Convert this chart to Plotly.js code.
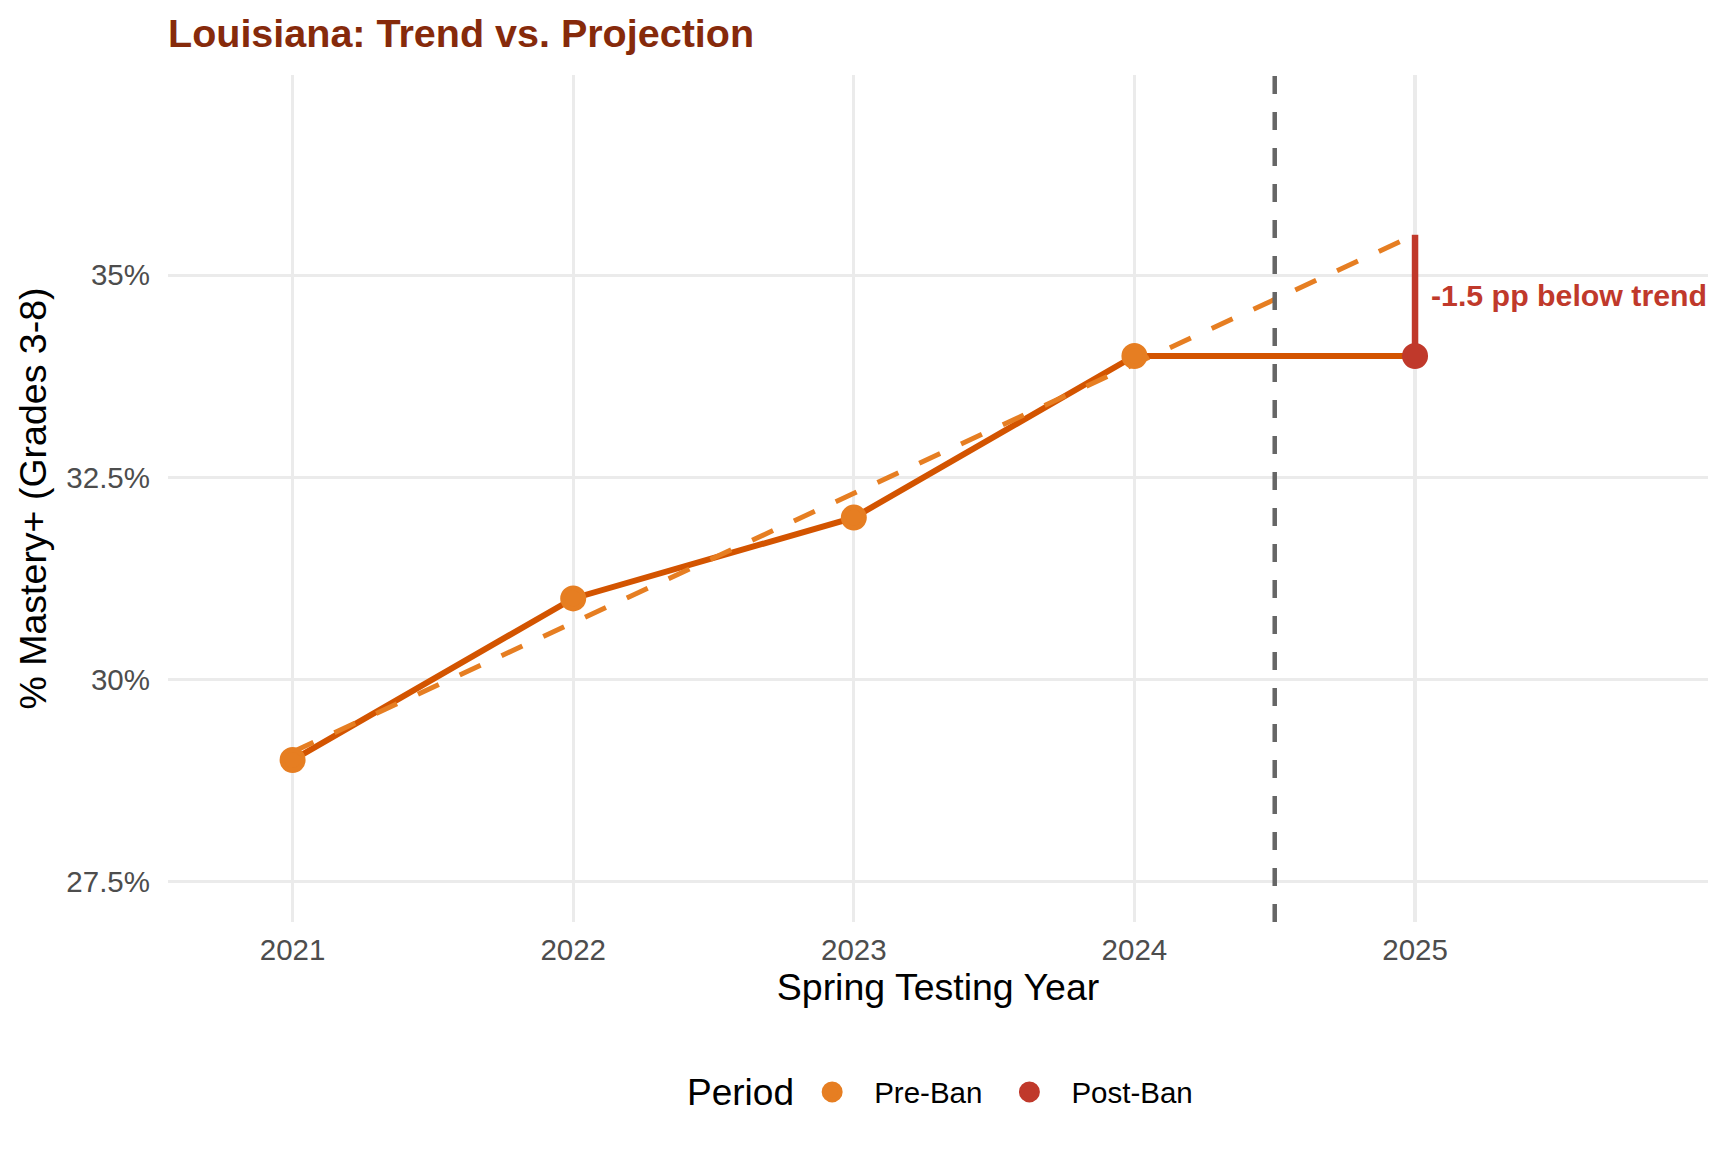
<!DOCTYPE html>
<html>
<head>
<meta charset="utf-8">
<script src="https://cdn.plot.ly/plotly-3.0.1.min.js"></script>
<style>
  html, body { margin: 0; padding: 0; background: #ffffff; }
  #chart { width: 1728px; height: 1152px; }
</style>
</head>
<body>
<div id="chart"></div>
<script>
// values
var years = [2021, 2022, 2023, 2024, 2025];
var mastery = [29.0, 31.0, 32.0, 34.0, 34.0];
var trendYears = [2021, 2022, 2023, 2024, 2025];
var trendValues = [29.1, 30.7, 32.3, 33.9, 35.5];
var preYears = [2021, 2022, 2023, 2024];
var preValues = [29.0, 31.0, 32.0, 34.0];
var postYears = [2025];
var postValues = [34.0];
var gapYears = [2025, 2025];
var gapValues = [34.0, 35.5];
var banYear = 2024.5;
var gapLabel = "-1.5 pp below trend";
var legendTitle = "Period";
var yTickVals = [27.5, 30, 32.5, 35];
var yTickText = ["27.5%", "30%", "32.5%", "35%"];

var FONT = "Liberation Sans, Arial, Helvetica, sans-serif";
var PRE = "#E67E22";
var POST = "#C0392B";

var mainLine = {
    x: years,
    y: mastery,
    type: "scatter",
    mode: "lines",
    line: {color: "#D35400", width: 6},
    showlegend: false,
    hoverinfo: "skip"
};
var trendLine = {
    x: trendYears,
    y: trendValues,
    type: "scatter",
    mode: "lines",
    line: {color: PRE, width: 5, dash: "23px,23px"},
    showlegend: false,
    hoverinfo: "skip"
};
var gapLine = {
    x: gapYears,
    y: gapValues,
    type: "scatter",
    mode: "lines",
    line: {color: POST, width: 6.5},
    showlegend: false,
    hoverinfo: "skip"
};
// marker line of the same colour makes the legend dots bigger too
var prePoints = {
    x: preYears,
    y: preValues,
    type: "scatter",
    mode: "markers",
    name: "Pre-Ban",
    marker: {color: PRE, size: 21, line: {color: PRE, width: 5}}
};
var postPoints = {
    x: postYears,
    y: postValues,
    type: "scatter",
    mode: "markers",
    name: "Post-Ban",
    marker: {color: POST, size: 21, line: {color: POST, width: 5}}
};

var legendY = -0.201;

var layout = {
    width: 1728,
    height: 1152,
    paper_bgcolor: "#ffffff",
    plot_bgcolor: "#ffffff",
    margin: {l: 168, r: 20, t: 75, b: 230},
    font: {family: FONT, color: "#000000"},
    title: {
        text: "<b>Louisiana: Trend vs. Projection</b>",
        font: {family: FONT, size: 39.5, color: "#862A0B"},
        xref: "paper", x: 0, xanchor: "left",
        yref: "container", y: 1 - 33 / 1152, yanchor: "middle"
    },
    xaxis: {
        range: [2020.556, 2026.044],
        tickvals: years,
        ticktext: years.map(String),
        showgrid: true,
        gridcolor: "#EBEBEB",
        gridwidth: 3.3,
        zeroline: false,
        showline: false,
        ticks: "",
        ticklabelstandoff: 7,
        tickfont: {family: FONT, size: 29.5, color: "#4D4D4D"},
        title: {text: "Spring Testing Year", font: {family: FONT, size: 37.5, color: "#000000"}, standoff: 9}
    },
    yaxis: {
        range: [26.996, 37.477],
        tickvals: yTickVals,
        ticktext: yTickText,
        showgrid: true,
        gridcolor: "#EBEBEB",
        gridwidth: 3.3,
        zeroline: false,
        showline: false,
        ticks: "",
        ticklabelstandoff: 17,
        tickfont: {family: FONT, size: 29.5, color: "#4D4D4D"},
        title: {text: "% Mastery+ (Grades 3-8)", font: {family: FONT, size: 37.5, color: "#000000"}, standoff: 8}
    },
    shapes: [
        {
            type: "line",
            xref: "x", yref: "paper",
            x0: banYear, x1: banYear, y0: 0, y1: 1,
            line: {color: "#666666", width: 4.5, dash: "18px,18px"},
            layer: "above"
        }
    ],
    annotations: [
        {
            x: 2025, y: (gapValues[0] + gapValues[1]) / 2,
            xref: "x", yref: "y",
            text: "<b>" + gapLabel + "</b>",
            showarrow: false,
            xanchor: "left", yanchor: "middle",
            xshift: 14,
            font: {family: FONT, size: 30.3, color: POST}
        },
        {
            x: 0.336, y: legendY,
            xref: "paper", yref: "paper",
            text: legendTitle,
            showarrow: false,
            xanchor: "left", yanchor: "middle",
            font: {family: FONT, size: 37, color: "#000000"}
        }
    ],
    legend: {
        orientation: "h",
        x: 0.404, xanchor: "left",
        y: legendY, yanchor: "middle",
        font: {family: FONT, size: 29.5, color: "#000000"},
        itemsizing: "trace",
        itemwidth: 74
    },
    showlegend: true
};

Plotly.newPlot("chart", [mainLine, trendLine, gapLine, prePoints, postPoints], layout, {displayModeBar: false, staticPlot: true});
</script>
</body>
</html>
